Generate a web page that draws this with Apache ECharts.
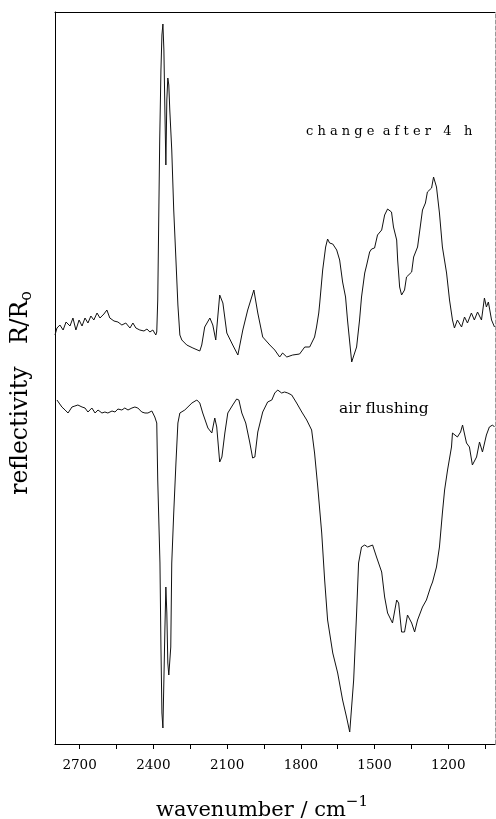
<!DOCTYPE html>
<html>
<head>
<meta charset="utf-8">
<script src="https://cdn.jsdelivr.net/npm/echarts@6/dist/echarts.min.js"></script>
<style>
html,body{margin:0;padding:0;background:#fff;}
#chart{width:496px;height:819px;}
</style>
</head>
<body>
<div id="chart"></div>
<script>
// wavenumber (cm^-1) and relative reflectivity (arbitrary units)
const wnTop = [2800,2792,2780,2767,2755,2739,2727,2715,2702,2690,
  2678,2666,2654,2642,2629,2617,2601,2589,2577,2560,
  2544,2528,2512,2495,2483,2471,2455,2438,2426,2414,
  2402,2390,2386,2382,2378,2374,2369,2365,2361,2357,
  2353,2349,2345,2341,2337,2333,2325,2317,2308,2300,
  2292,2284,2264,2239,2211,2203,2191,2170,2158,2146,
  2130,2117,2101,2077,2056,2036,2016,1991,1975,1955,
  1926,1906,1886,1874,1857,1833,1805,1784,1764,1744,
  1736,1727,1723,1711,1699,1691,1683,1670,1654,1642,
  1630,1618,1610,1593,1585,1573,1561,1553,1540,1532,
  1520,1512,1500,1488,1480,1471,1459,1447,1431,1423,
  1410,1406,1398,1390,1378,1370,1362,1349,1341,1325,
  1305,1293,1285,1268,1260,1248,1236,1224,1207,1195,
  1183,1175,1163,1146,1134,1122,1106,1094,1081,1065,
  1053,1045,1037,1024,1012];
const rTop = [409,416,419,414,422,418,426,414,424,418,
  426,421,428,424,431,426,430,434,426,423,
  422,419,421,416,421,416,414,413,415,412,
  414,409,412,444,524,604,674,709,720,694,
  634,579,644,666,659,634,594,534,484,439,
  409,404,399,396,393,399,417,426,419,404,
  449,441,411,399,389,414,434,454,431,407,
  399,394,387,391,387,389,390,397,397,407,
  417,431,441,474,497,505,501,500,494,484,
  462,447,424,382,381,397,424,447,471,479,
  492,495,496,509,511,514,529,535,532,517,
  504,484,457,449,454,467,466,472,487,497,
  534,541,552,556,567,557,531,497,471,444,
  424,416,424,417,427,421,431,424,432,424,
  446,437,442,424,417];

const wnBottom = [2792,2788,2772,2759,2747,2731,2719,2707,2690,2678,
  2666,2650,2637,2625,2609,2597,2585,2568,2556,2544,
  2528,2516,2503,2487,2475,2463,2447,2434,2422,2406,
  2394,2386,2382,2373,2369,2365,2361,2357,2353,2349,
  2345,2341,2337,2329,2325,2317,2308,2300,2292,2272,
  2243,2223,2211,2199,2178,2162,2150,2142,2130,2121,
  2109,2097,2077,2061,2052,2040,2024,2008,1996,1987,
  1975,1955,1935,1918,1906,1894,1878,1866,1853,1837,
  1817,1796,1776,1756,1744,1731,1715,1703,1691,1670,
  1650,1630,1614,1601,1593,1585,1573,1565,1553,1540,
  1528,1520,1508,1492,1471,1459,1447,1427,1410,1402,
  1390,1378,1366,1349,1337,1325,1305,1289,1272,1264,
  1248,1236,1224,1215,1203,1187,1183,1175,1163,1150,
  1142,1126,1114,1102,1085,1073,1061,1045,1033,1020,
  1012];
const rBottom = [344,346,337,334,331,337,338,339,337,336,
  332,336,331,334,331,332,331,333,332,335,
  334,336,334,336,337,336,332,331,331,333,
  327,321,264,181,97,31,16,64,114,157,
  131,81,69,97,181,231,281,321,331,334,
  341,344,341,331,316,311,326,317,282,287,
  311,331,339,345,344,331,321,302,286,287,
  312,332,342,344,351,354,351,352,351,349,
  341,332,324,314,291,257,211,164,124,91,
  71,44,27,12,14,64,131,181,197,199,
  197,199,199,187,172,147,131,121,144,141,
  112,112,129,121,112,124,137,144,157,162,
  177,197,231,254,274,297,311,311,307,312,
  319,301,297,279,287,302,292,309,317,319,
  317];

const tickLabels = [2700,2400,2100,1800,1500,1200];
const tickMarks = [2700,2550,2400,2250,2100,1950,1800,1650,1500,1350,1200,1050];
const seriesNames = ['change after 4 h','air flushing'];

function zip(xs, ys){ const n=Math.min(xs.length, ys.length); const out=[]; for(let i=0;i<n;i++) out.push([xs[i], ys[i]]); return out; }

const serif = 'DejaVu Serif';
const chart = echarts.init(document.getElementById('chart'), null, {renderer:'canvas'});
const axisLineStyle = {color:'#000', width:1};
chart.setOption({
  animation:false,
  backgroundColor:'#fff',
  grid:{left:55, right:1, top:12, bottom:75, show:false, containLabel:false, outerBoundsMode:'none'},
  xAxis:[{
    type:'value', inverse:true, min:1010, max:2800, position:'bottom',
    axisLine:{show:true, onZero:false, lineStyle:axisLineStyle},
    axisTick:{show:true, inside:false, length:5, customValues:tickMarks, lineStyle:{color:'#000', width:1}},
    axisLabel:{customValues:tickLabels, margin:14, fontFamily:serif, fontSize:13.5, color:'#000',
      formatter:function(v){ return String(v); }},
    splitLine:{show:false},
    name:'{a|wavenumber / cm}{s|\u22121}',
    nameLocation:'middle', nameGap:51,
    nameTextStyle:{padding:[0,26,0,0], rich:{
      a:{fontFamily:serif, fontSize:21, color:'#000'},
      s:{fontFamily:serif, fontSize:15, color:'#000', padding:[0,0,16,0]}
    }}
  },{
    type:'value', inverse:true, min:1010, max:2800, position:'top',
    axisLine:{show:true, onZero:false, lineStyle:axisLineStyle},
    axisTick:{show:false}, axisLabel:{show:false}, splitLine:{show:false}
  }],
  yAxis:[{
    type:'value', min:0, max:732, position:'left',
    axisLine:{show:true, onZero:false, lineStyle:axisLineStyle},
    axisTick:{show:false}, axisLabel:{show:false}, splitLine:{show:false},
    name:'{a|reflectivity   R/R}{b|o}',
    nameLocation:'middle', nameGap:20, nameRotate:90,
    nameTextStyle:{padding:[0,30,0,0], rich:{
      a:{fontFamily:serif, fontSize:23.5, color:'#000'},
      b:{fontFamily:serif, fontSize:16, color:'#000', padding:[12,0,0,0]}
    }}
  },{
    type:'value', min:0, max:732, position:'right',
    axisLine:{show:true, onZero:false, lineStyle:{color:'#999', width:1, type:'dashed'}},
    axisTick:{show:false}, axisLabel:{show:false}, splitLine:{show:false}
  }],
  series:[{
    name:seriesNames[0], type:'line', data:zip(wnTop, rTop), showSymbol:false,
    lineStyle:{color:'#111', width:1}, clip:true
  },{
    name:seriesNames[1], type:'line', data:zip(wnBottom, rBottom), showSymbol:false,
    lineStyle:{color:'#111', width:1}, clip:true
  }],
  graphic:[{
    type:'text', left:306, top:125,
    style:{text:'c h a n g e  a f t e r   4   h', font:'13px "DejaVu Serif"', fill:'#000'}
  },{
    type:'text', left:339, top:401,
    style:{text:'air flushing', font:'15.5px "DejaVu Serif"', fill:'#000'}
  }]
});
</script>
</body>
</html>
